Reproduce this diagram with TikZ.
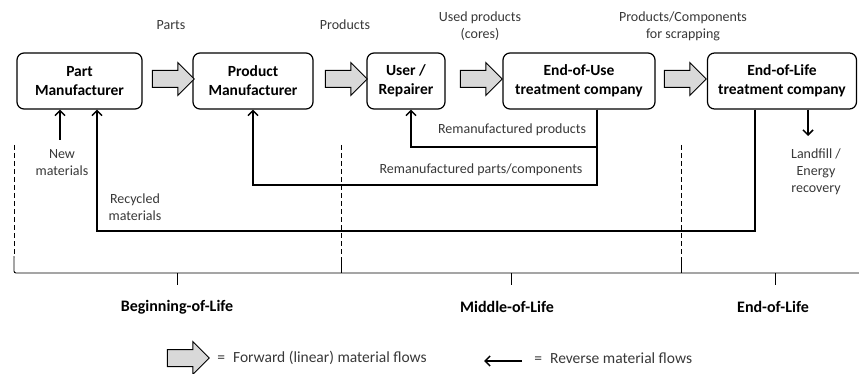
\documentclass[tikz,border=0pt]{standalone}
\usepackage{fontspec}
\setmainfont{Carlito}
\usetikzlibrary{arrows.meta,shapes.arrows,positioning,calc}
\tikzset{every picture/.style={line width=0.75pt}}

\begin{document}
\begin{tikzpicture}[x=1pt,y=-1pt,
    stage/.style={draw, line width=1.2pt, rounded corners=7pt, minimum height=56pt,
        align=center, inner sep=2pt, font=\fontsize{15.5}{19}\selectfont\bfseries},
    label/.style={align=center, inner sep=1pt, text=black!78, font=\fontsize{14}{17}\selectfont},
    phase/.style={inner sep=1pt, font=\fontsize{16}{18}\selectfont\bfseries},
    legend/.style={inner sep=1pt, anchor=west, text=black!78, font=\fontsize{15.5}{18}\selectfont},
    fwd/.style={single arrow, draw, line width=1pt, fill=black!15, inner xsep=0pt,
        inner ysep=8pt, minimum height=42pt, minimum width=32pt, single arrow head extend=8pt},
    flow/.style={line width=1.5pt, -{Straight Barb[length=5pt,width=10pt]}},
    divider/.style={line width=0.9pt, dash pattern=on 5pt off 3pt},
    lifeline/.style={line width=0.9pt}]
    % 画布
    \clip (0,0) rectangle (859,374);

    % 各阶段
    \node[stage, minimum width=125pt] (pm) at (79.5,81) {Part\\Manufacturer};
    \node[stage, minimum width=120pt] (prm) at (253,81) {Product\\Manufacturer};
    \node[stage, minimum width=78pt] (user) at (406,81) {User /\\Repairer};
    \node[stage, minimum width=152pt] (eou) at (579,81) {End-of-Use\\treatment company};
    \node[stage, minimum width=149pt] (eol) at (782,81) {End-of-Life\\treatment company};

    % 正向物流
    \node[fwd] (f1) at (169,79) {};
    \node[fwd] (f2) at (342,79) {};
    \node[fwd] (f3) at (477,79) {};
    \node[fwd] (f4) at (681,79) {};
    \node[label] (lparts) at (171,25) {Parts};
    \node[label] (lprod) at (345,25) {Products};
    \node[label] (lused) at (480,26) {Used products\\(cores)};
    \node[label] (lscrap) at (683,26) {Products/Components\\for scrapping};

    % 新材料
    \coordinate (nm) at (60,140);
    \draw[flow] (nm) -- (pm.south -| nm);
    \node[label] (lnew) at (62,163) {New\\materials};

    % 再制造产品
    \coordinate (rpR) at (597,147);
    \coordinate (rpL) at (411,147);
    \draw[flow] (eou.south -| rpR) -- (rpR) -- (rpL) -- (user.south -| rpL);
    \node[label] (lremp) at (512,130) {Remanufactured products};

    % 再制造零部件
    \coordinate (rcR) at (597,185);
    \draw[flow] (eou.south -| rcR) -- (rcR) -| (prm.south);
    \node[label] (lremc) at (481,170) {Remanufactured parts/components};

    % 回收材料
    \coordinate (recR) at (755,231);
    \coordinate (recL) at (97,231);
    \draw[flow] (eol.south -| recR) -- (recR) -- (recL) -- (pm.south -| recL);
    \node[label] (lrec) at (135,207) {Recycled\\materials};

    % 填埋 / 能量回收
    \coordinate (lf) at (808,136);
    \draw[flow] (eol.south -| lf) -- (lf);
    \node[label] (llf) at (816,172) {Landfill /\\Energy\\recovery};

    % 生命周期分段
    \coordinate (d1) at (14,145);
    \coordinate (d2) at (341,145);
    \coordinate (d3) at (681,145);
    \draw[divider] (d1) -- ++(0,112);
    \draw[divider] (d2) -- ++(0,118);
    \draw[divider] (d3) -- ++(0,118);
    \draw[lifeline, rounded corners=2pt] (14,256) -- (14,273) -- (859,273);
    \draw[lifeline] (341,262) -- (341,273);
    \draw[lifeline] (681,262) -- (681,273);
    \draw[lifeline] (177,273) -- ++(0,12);
    \draw[lifeline] (511,273) -- ++(0,12);
    \draw[lifeline] (775,273) -- ++(0,12);
    \node[phase] (bol) at (177,307) {Beginning-of-Life};
    \node[phase] (mol) at (507,307) {Middle-of-Life};
    \node[phase] (eolp) at (773,307) {End-of-Life};

    % 图例
    \node[fwd] (lgf) at (184,358) {};
    \node[legend] (lgft) at (216,358) {=\hspace{8pt}Forward (linear) material flows};
    \coordinate (lgr) at (522,361);
    \draw[flow] (lgr) -- ++(-38,0) coordinate (lgrt);
    \node[legend] (lgrtx) at (533,358) {=\hspace{8pt}Reverse material flows};
\end{tikzpicture}
\end{document}
